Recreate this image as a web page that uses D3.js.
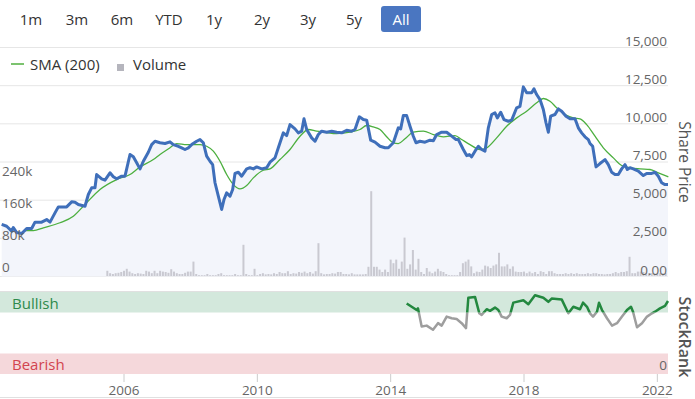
<!DOCTYPE html>
<html>
<head>
<meta charset="utf-8">
<script src="https://cdn.jsdelivr.net/npm/d3@7"></script>
<style>
  body { margin: 0; background: #fff; }
  svg { display: block; font-family: "Open Sans", sans-serif; }
</style>
</head>
<body>
<div id="chart"></div>
<script>
// Range buttons
const rangeButtons = ["1m", "3m", "6m", "YTD", "1y", "2y", "3y", "5y", "All"];
const buttonX = [31, 77, 122, 169, 214, 262, 308, 354, 401];

// Share price: [decimal year, price]
const priceSeries = [
  [2002.33, 3410], [2002.48, 3290], [2002.63, 2970], [2002.68, 3210], [2002.78, 2880],
  [2002.93, 2820], [2003.08, 3140], [2003.23, 3140], [2003.33, 3560], [2003.53, 3560],
  [2003.68, 3730], [2003.78, 3560], [2003.93, 4170], [2004.03, 4560], [2004.28, 4560],
  [2004.43, 4890], [2004.53, 4870], [2004.63, 4720], [2004.83, 4600], [2004.93, 5370],
  [2005.03, 5810], [2005.13, 5810], [2005.18, 6680], [2005.33, 6400], [2005.43, 6310],
  [2005.58, 6790], [2005.68, 6530], [2005.78, 6400], [2005.93, 6570], [2006.03, 6570],
  [2006.18, 7990], [2006.28, 7840], [2006.38, 7450], [2006.48, 7050], [2006.58, 7550],
  [2006.73, 8140], [2006.83, 8640], [2006.93, 8860], [2007.08, 8760], [2007.23, 8710],
  [2007.38, 8820], [2007.48, 8640], [2007.63, 8530], [2007.73, 8430], [2007.83, 8320],
  [2007.93, 8430], [2008.03, 8640], [2008.18, 8860], [2008.28, 8970], [2008.38, 8760],
  [2008.48, 7880], [2008.58, 7550], [2008.66, 7330], [2008.73, 6140], [2008.83, 5260],
  [2008.93, 4390], [2009.00, 5040], [2009.08, 5480], [2009.18, 5260], [2009.26, 5700],
  [2009.33, 6750], [2009.43, 6830], [2009.53, 6570], [2009.68, 7050], [2009.78, 7120],
  [2009.88, 7050], [2009.98, 7180], [2010.13, 7050], [2010.28, 7120], [2010.38, 7490],
  [2010.53, 7770], [2010.63, 8430], [2010.78, 9410], [2010.88, 9230], [2010.98, 9950],
  [2011.13, 9670], [2011.23, 9410], [2011.33, 9520], [2011.40, 10330], [2011.48, 9630],
  [2011.63, 9080], [2011.73, 8860], [2011.83, 9300], [2011.93, 9520], [2012.08, 9450],
  [2012.23, 9520], [2012.38, 9450], [2012.53, 9410], [2012.68, 9580], [2012.83, 9520],
  [2012.93, 9630], [2013.06, 10460], [2013.18, 10280], [2013.28, 10240], [2013.40, 8930],
  [2013.53, 8800], [2013.68, 8530], [2013.83, 8430], [2013.93, 8430], [2014.08, 8760],
  [2014.23, 9740], [2014.30, 9670], [2014.38, 10540], [2014.48, 10540], [2014.58, 9840],
  [2014.68, 9190], [2014.76, 8760], [2014.88, 8860], [2015.03, 8800], [2015.18, 8930],
  [2015.28, 8890], [2015.38, 9300], [2015.53, 9450], [2015.68, 9450], [2015.83, 9190],
  [2015.96, 8970], [2016.03, 8970], [2016.18, 8320], [2016.28, 7920], [2016.36, 7990],
  [2016.43, 7840], [2016.53, 8210], [2016.63, 8530], [2016.73, 8320], [2016.83, 8210],
  [2016.93, 9740], [2017.03, 10610], [2017.13, 10720], [2017.20, 10390], [2017.30, 10760],
  [2017.40, 10280], [2017.53, 10170], [2017.63, 10240], [2017.78, 11050], [2017.88, 11150],
  [2017.98, 12420], [2018.08, 12030], [2018.23, 12030], [2018.30, 12290], [2018.38, 11920],
  [2018.48, 11590], [2018.58, 10940], [2018.66, 10070], [2018.73, 9450], [2018.80, 10500],
  [2018.93, 10610], [2019.03, 10980], [2019.13, 10830], [2019.26, 10500], [2019.38, 10330],
  [2019.53, 10330], [2019.63, 9740], [2019.73, 9410], [2019.83, 9150], [2019.93, 8970],
  [2019.98, 8710], [2020.06, 8530], [2020.16, 7180], [2020.28, 7400], [2020.43, 7660],
  [2020.53, 7330], [2020.63, 6830], [2020.73, 6680], [2020.83, 6680], [2020.93, 7050],
  [2021.03, 7330], [2021.10, 7010], [2021.18, 7120], [2021.28, 7050], [2021.43, 6900],
  [2021.58, 6610], [2021.68, 6750], [2021.83, 6750], [2021.93, 6830], [2022.03, 6570],
  [2022.13, 6140], [2022.23, 6020], [2022.32, 6020]
];

// 200-day simple moving average: [decimal year, price]
const smaSeries = [
  [2002.98, 3010], [2003.28, 3010], [2003.58, 3190], [2004.08, 3520], [2004.48, 3950],
  [2004.83, 4720], [2005.28, 5700], [2005.78, 6350], [2006.18, 6680], [2006.48, 7180],
  [2006.88, 7660], [2007.08, 7990], [2007.38, 8430], [2007.58, 8710], [2007.88, 8640],
  [2008.28, 8640], [2008.48, 8530], [2008.68, 8210], [2008.88, 7550], [2009.08, 6680],
  [2009.28, 6020], [2009.48, 5740], [2009.68, 5960], [2009.88, 6460], [2010.18, 6960],
  [2010.38, 7050], [2010.68, 7660], [2010.98, 8320], [2011.28, 9190], [2011.53, 9630],
  [2011.78, 9520], [2012.03, 9450], [2012.38, 9360], [2012.78, 9450], [2013.08, 9630],
  [2013.28, 9890], [2013.48, 9800], [2013.68, 9630], [2013.88, 9150], [2014.08, 8760],
  [2014.23, 8710], [2014.43, 9020], [2014.68, 9450], [2014.98, 9520], [2015.28, 9300],
  [2015.58, 9150], [2015.93, 9230], [2016.13, 8970], [2016.38, 8640], [2016.68, 8320],
  [2016.88, 8430], [2017.18, 9080], [2017.48, 9840], [2017.78, 10390], [2018.08, 10830],
  [2018.38, 11380], [2018.58, 11660], [2018.78, 11480], [2018.98, 11050], [2019.23, 10610],
  [2019.48, 10390], [2019.68, 10330], [2019.88, 9950], [2020.13, 9190], [2020.38, 8430],
  [2020.68, 7770], [2020.93, 7270], [2021.18, 7120], [2021.48, 7050], [2021.78, 7010],
  [2022.03, 6790], [2022.33, 6530]
];

// Monthly volume (thousands), first bar July 2005
const volumeStart = 2005.5;
const volumeK = [
  13, 7, 5, 7, 8, 10,
  13, 18, 11, 7, 5, 7, 6, 5, 13, 11, 7, 13,
  7, 13, 11, 10, 8, 17, 11, 7, 5, 5, 8, 11,
  11, 36, 5, 2, 2, 2, 5, 2, 2, 2, 5, 7,
  2, 2, 2, 2, 5, 2, 2, 78, 5, 2, 2, 18,
  2, 5, 7, 4, 5, 4, 7, 5, 10, 7, 7, 12,
  5, 7, 6, 10, 8, 11, 7, 10, 6, 12, 82, 7,
  4, 5, 5, 7, 6, 10, 10, 5, 5, 4, 7, 4,
  4, 4, 4, 5, 23, 212, 23, 23, 16, 10, 16, 10,
  41, 32, 41, 18, 36, 96, 18, 29, 65, 16, 43, 10,
  5, 20, 11, 7, 11, 18, 12, 10, 5, 2, 2, 2,
  2, 10, 32, 36, 41, 24, 7, 11, 10, 16, 26, 24,
  20, 26, 29, 58, 24, 24, 29, 18, 24, 11, 10, 10,
  11, 7, 11, 7, 10, 5, 12, 10, 5, 12, 12, 7,
  5, 5, 5, 7, 5, 7, 5, 7, 5, 5, 5, 7,
  5, 7, 7, 5, 5, 4, 5, 5, 7, 10, 7, 10,
  10, 12, 48, 7, 7, 11, 11, 10, 7, 7, 7, 7,
  7, 7, 7, 7
];

// StockRank: [decimal year, rank]
const rankSeries = [
  [2014.48, 86], [2014.78, 78], [2014.82, 80], [2014.93, 58], [2015.08, 59],
  [2015.27, 54], [2015.42, 62], [2015.53, 59], [2015.68, 70], [2015.83, 68],
  [2015.98, 67], [2016.13, 62], [2016.26, 56], [2016.33, 93], [2016.53, 94],
  [2016.66, 74], [2016.73, 72], [2016.88, 79], [2016.98, 77], [2017.13, 81],
  [2017.23, 78], [2017.33, 70], [2017.48, 68], [2017.58, 72], [2017.68, 87],
  [2017.98, 90], [2018.13, 85], [2018.33, 96], [2018.58, 93], [2018.73, 88],
  [2018.83, 92], [2019.13, 91], [2019.33, 74], [2019.48, 82], [2019.68, 79],
  [2019.77, 87], [2019.89, 82], [2019.98, 74], [2020.07, 70], [2020.19, 76],
  [2020.25, 87], [2020.34, 78], [2020.49, 68], [2020.64, 59], [2020.79, 62],
  [2020.94, 70], [2021.09, 78], [2021.21, 82], [2021.27, 76], [2021.39, 57],
  [2021.54, 62], [2021.69, 70], [2021.84, 74], [2021.93, 76], [2022.08, 80],
  [2022.23, 83], [2022.32, 89]
];

const priceTicks = [0, 2500, 5000, 7500, 10000, 12500, 15000];
const volumeTicks = [0, 80000, 160000, 240000];
const yearTicks = [2006, 2010, 2014, 2018, 2022];
const bullishFrom = 75, bearishTo = 25;

const width = 695, height = 399;
const plotLeft = 0, plotRight = 668;

const svg = d3.select("#chart").append("svg")
    .attr("width", width)
    .attr("height", height);

const x = d3.scaleLinear().domain([2002.28, 2022.32]).range([plotLeft, plotRight]);
const yPrice = d3.scaleLinear().domain([0, 15000]).range([276.5, 47.5]);
const yVol = d3.scaleLinear().domain([0, 240000]).range([276, 180]);
const yRank = d3.scaleLinear().domain([0, 100]).range([374, 292]);

// Range selector buttons
svg.append("rect")
    .attr("x", 381).attr("y", 6).attr("width", 40).attr("height", 26)
    .attr("rx", 3).attr("fill", "#4a76c1");
svg.append("g").selectAll("text")
    .data(rangeButtons)
    .enter().append("text")
    .attr("x", (d, i) => buttonX[i])
    .attr("y", 25)
    .attr("text-anchor", "middle")
    .attr("font-size", 15)
    .attr("fill", (d, i) => i === rangeButtons.length - 1 ? "#fff" : "#333")
    .text(d => d);

// Price gridlines
svg.append("g").selectAll("line")
    .data(priceTicks)
    .enter().append("line")
    .attr("x1", plotLeft).attr("x2", plotRight)
    .attr("y1", d => yPrice(d)).attr("y2", d => yPrice(d))
    .attr("stroke", "#e6e6e6");

// Area under price line
svg.append("path")
    .datum(priceSeries)
    .attr("fill", "#f3f5fb")
    .attr("d", d3.area().x(d => x(d[0])).y0(yPrice(0)).y1(d => yPrice(d[1])));

// Volume bars
svg.append("g").selectAll("rect")
    .data(volumeK)
    .enter().append("rect")
    .attr("x", (d, i) => x(volumeStart + i / 12) - 1)
    .attr("width", 2)
    .attr("y", d => yVol(d * 1000))
    .attr("height", d => yVol(0) - yVol(d * 1000))
    .attr("fill", "#c9c9d1");

// SMA line
svg.append("path")
    .datum(smaSeries)
    .attr("fill", "none")
    .attr("stroke", "#4caf3f")
    .attr("stroke-width", 1.3)
    .attr("d", d3.line().curve(d3.curveMonotoneX).x(d => x(d[0])).y(d => yPrice(d[1])));

// Price line
svg.append("path")
    .datum(priceSeries)
    .attr("fill", "none")
    .attr("stroke", "#3f6fba")
    .attr("stroke-width", 3)
    .attr("stroke-linejoin", "round")
    .attr("d", d3.line().x(d => x(d[0])).y(d => yPrice(d[1])));

// Right axis labels (price)
svg.append("g").selectAll("text")
    .data(priceTicks)
    .enter().append("text")
    .attr("x", plotRight - 1)
    .attr("y", d => yPrice(d) - 2)
    .attr("text-anchor", "end")
    .attr("font-size", 13.5)
    .attr("fill", "#666")
    .text(d => d === 0 ? "0.00" : d3.format(",")(d));

// Left axis labels (volume)
svg.append("g").selectAll("text")
    .data(volumeTicks)
    .enter().append("text")
    .attr("x", 2)
    .attr("y", d => yVol(d) - 4)
    .attr("font-size", 13.5)
    .attr("fill", "#666")
    .text(d => d === 0 ? "0" : d3.format("~s")(d));

// Axis titles
svg.append("text")
    .attr("transform", `translate(679,162) rotate(90)`)
    .attr("text-anchor", "middle")
    .attr("font-size", 15.5)
    .attr("fill", "#555")
    .text("Share Price");
svg.append("text")
    .attr("transform", `translate(679,337) rotate(90)`)
    .attr("text-anchor", "middle")
    .attr("font-size", 16)
    .attr("font-weight", 600)
    .attr("fill", "#555")
    .text("StockRank");

// Legend
svg.append("line")
    .attr("x1", 11).attr("x2", 24).attr("y1", 64).attr("y2", 64)
    .attr("stroke", "#7cc36f").attr("stroke-width", 2);
svg.append("text")
    .attr("x", 30).attr("y", 70)
    .attr("font-size", 15).attr("fill", "#333")
    .text("SMA (200)");
svg.append("rect")
    .attr("x", 117).attr("y", 64).attr("width", 7).attr("height", 7)
    .attr("fill", "#b5b5bd");
svg.append("text")
    .attr("x", 133).attr("y", 70)
    .attr("font-size", 15).attr("fill", "#333")
    .text("Volume");

// StockRank panel
svg.append("line")
    .attr("x1", plotLeft).attr("x2", plotRight)
    .attr("y1", 291.5).attr("y2", 291.5)
    .attr("stroke", "#e0e0e0");
svg.append("rect")
    .attr("x", plotLeft).attr("width", plotRight - plotLeft)
    .attr("y", yRank(100)).attr("height", yRank(bullishFrom) - yRank(100))
    .attr("fill", "#d3e8dc");
svg.append("rect")
    .attr("x", plotLeft).attr("width", plotRight - plotLeft)
    .attr("y", yRank(bearishTo)).attr("height", yRank(0) - yRank(bearishTo))
    .attr("fill", "#f5d8db");
svg.append("text")
    .attr("x", 12).attr("y", 309)
    .attr("font-size", 15).attr("fill", "#2e8a4c")
    .text("Bullish");
svg.append("text")
    .attr("x", 12).attr("y", 370)
    .attr("font-size", 15).attr("fill", "#d2444f")
    .text("Bearish");
svg.append("text")
    .attr("x", plotRight - 1).attr("y", 370)
    .attr("text-anchor", "end")
    .attr("font-size", 13.5).attr("fill", "#666")
    .text("0");

const defs = svg.append("defs");
defs.append("clipPath").attr("id", "clip-bull")
    .append("rect").attr("x", 0).attr("width", width)
    .attr("y", 0).attr("height", yRank(bullishFrom));
defs.append("clipPath").attr("id", "clip-bear")
    .append("rect").attr("x", 0).attr("width", width)
    .attr("y", yRank(bullishFrom)).attr("height", height);

const rankLine = d3.line().x(d => x(d[0])).y(d => yRank(d[1]));
svg.append("path")
    .datum(rankSeries)
    .attr("clip-path", "url(#clip-bear)")
    .attr("fill", "none").attr("stroke", "#9e9e9e")
    .attr("stroke-width", 2.5).attr("stroke-linejoin", "round")
    .attr("d", rankLine);
svg.append("path")
    .datum(rankSeries)
    .attr("clip-path", "url(#clip-bull)")
    .attr("fill", "none").attr("stroke", "#23883f")
    .attr("stroke-width", 2.5).attr("stroke-linejoin", "round")
    .attr("d", rankLine);

// Time axis
svg.append("line")
    .attr("x1", plotLeft).attr("x2", plotRight)
    .attr("y1", 397.5).attr("y2", 397.5)
    .attr("stroke", "#e0e0e0");
svg.append("g").selectAll("line")
    .data(yearTicks)
    .enter().append("line")
    .attr("x1", d => x(d)).attr("x2", d => x(d))
    .attr("y1", 374).attr("y2", 382)
    .attr("stroke", "#ccc");
svg.append("g").selectAll("text")
    .data(yearTicks)
    .enter().append("text")
    .attr("x", d => x(d))
    .attr("y", 395)
    .attr("text-anchor", "middle")
    .attr("font-size", 13.5)
    .attr("fill", "#666")
    .text(d => d);
</script>
</body>
</html>
